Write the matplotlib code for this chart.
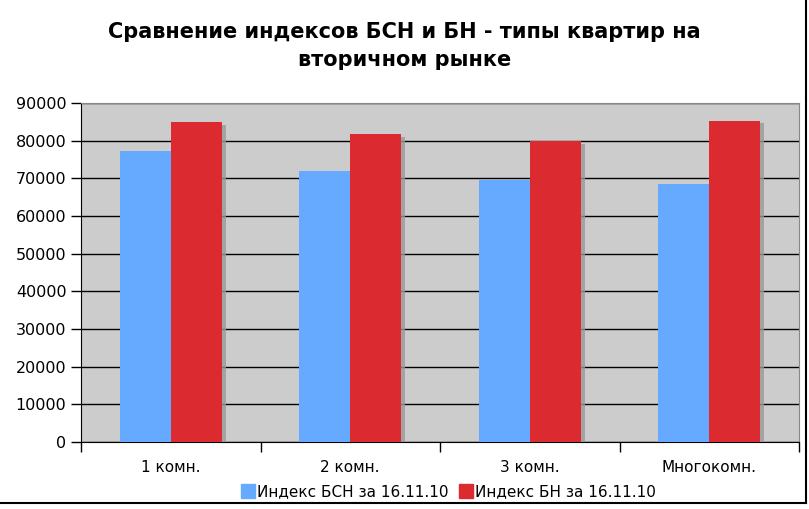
import numpy as np
import matplotlib
matplotlib.use("Agg")
import matplotlib.pyplot as plt
import matplotlib.patheffects as pe
from matplotlib.lines import Line2D


categories = ["1 комн.", "2 комн.", "3 комн.", "Многокомн."]
bsn_values = [77200, 72000, 69500, 68600]
bn_values = [85000, 81800, 79800, 85300]
series_labels = ["Индекс БСН за 16.11.10", "Индекс БН за 16.11.10"]
yticks = [0, 10000, 20000, 30000, 40000, 50000, 60000, 70000, 80000, 90000]

blue = "#66aaff"
red = "#db2b31"


def main():
    fig = plt.figure(figsize=(8.09, 5.09), dpi=100)
    ax = fig.add_axes([81 / 809, 67 / 509, 718 / 809, 339 / 509])
    ax.set_facecolor("#cccccc")

    x = np.arange(len(categories))
    w = 0.284
    shadow = [pe.SimplePatchShadow(offset=(3, -2), shadow_rgbFace="#999999", alpha=0.8), pe.Normal()]
    b1 = ax.bar(x - w / 2, bsn_values, w, color=blue, zorder=3, label=series_labels[0])
    b2 = ax.bar(x + w / 2, bn_values, w, color=red, zorder=3, label=series_labels[1])
    for p in list(b1) + list(b2):
        p.set_path_effects(shadow)

    ax.set_xlim(-0.5, len(categories) - 0.5)
    ax.set_ylim(0, 90000)
    ax.set_yticks(yticks)
    ax.set_yticklabels([str(v) for v in yticks], fontsize=11.5)
    ax.yaxis.grid(True, color="black", linewidth=1)
    ax.set_axisbelow(True)

    ax.set_xticks(x)
    ax.set_xticklabels(categories, fontsize=11)
    ax.tick_params(axis="x", length=0, pad=13)
    ax.set_xticks(np.arange(len(categories) + 1) - 0.5, minor=True)
    ax.tick_params(axis="x", which="minor", length=7, width=1)
    ax.tick_params(axis="y", length=7, width=1)

    for side in ["top", "right"]:
        ax.spines[side].set_color("#888888")
    for side in ["left", "bottom"]:
        ax.spines[side].set_color("black")

    fig.text(0.5, 1 - 46 / 509, "Сравнение индексов БСН и БН - типы квартир на\nвторичном рынке",
             ha="center", va="center", fontsize=15, fontweight="bold", linespacing=1.5)

    handles = [Line2D([], [], marker="s", linestyle="", markersize=9.5, color=blue),
               Line2D([], [], marker="s", linestyle="", markersize=9.5, color=red)]
    fig.legend(handles, series_labels, loc="center", bbox_to_anchor=(448 / 809, 17 / 509),
               ncol=2, frameon=False, fontsize=11, handletextpad=0.1, columnspacing=0.6,
               handlelength=1.0)

    # рамка изображения справа и снизу
    fig.add_artist(Line2D([806 / 809, 806 / 809], [6 / 509, 1], color="black", linewidth=1.5))
    fig.add_artist(Line2D([0, 806 / 809], [6 / 509, 6 / 509], color="black", linewidth=1.5))

    fig.savefig("out.png", dpi=100)


if __name__ == "__main__":
    main()
